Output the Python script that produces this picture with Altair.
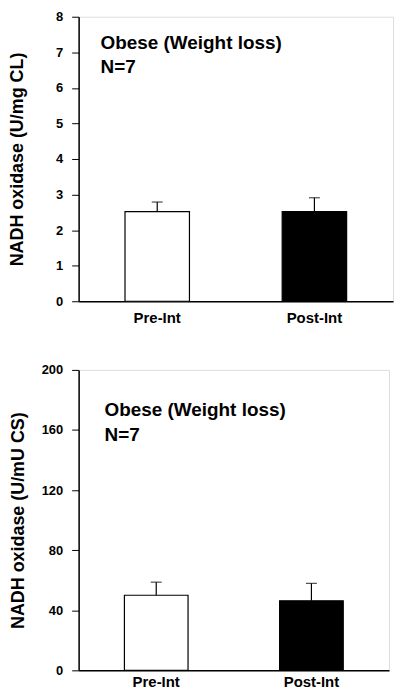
import altair as alt
import pandas as pd

groups = ["Pre-Int", "Post-Int"]

# Top panel: NADH oxidase (U/mg CL)
top_mean = [2.52, 2.52]
top_sem = [0.27, 0.39]
top_ticks = [0, 1, 2, 3, 4, 5, 6, 7, 8]

# Bottom panel: NADH oxidase (U/mU CS)
bot_mean = [50.0, 46.3]
bot_sem = [8.7, 11.6]
bot_ticks = [0, 40, 80, 120, 160, 200]

line1 = "Obese (Weight loss)"
line2 = "N=7"

FONT = "Liberation Sans"


def panel(means, sems, ymax, ticks, ytitle, W, H, title_pad, tx, ty, xpad):
    df = pd.DataFrame({
        "group": groups,
        "mean": means,
        "upper": [m + s for m, s in zip(means, sems)],
    })
    xenc = alt.X(
        "group:N",
        sort=groups,
        scale=alt.Scale(paddingInner=0.59, paddingOuter=0.295),
        axis=alt.Axis(
            title=None, ticks=False, labelAngle=0, labelFontSize=15,
            labelFontWeight="bold", labelPadding=xpad, labelColor="black",
            domainColor="black", domainWidth=1.5,
        ),
    )
    yscale = alt.Scale(domain=[0, ymax], nice=False, zero=True)
    yaxis = alt.Axis(
        values=ticks, title=ytitle, grid=False, tickSize=7,
        tickColor="black", tickWidth=1, labelFontSize=13,
        labelFontWeight="bold", labelPadding=9, labelColor="black",
        labelOverlap=False,
        titleFontSize=18, titleFontWeight="bold", titleColor="black",
        titlePadding=title_pad, domainColor="black", domainWidth=1.5,
    )
    base = alt.Chart(df)
    bars = base.mark_bar(stroke="black", strokeWidth=1.2).encode(
        x=xenc,
        y=alt.Y("mean:Q", scale=yscale, axis=yaxis),
        fill=alt.Fill(
            "group:N",
            scale=alt.Scale(domain=groups, range=["white", "black"]),
            legend=None,
        ),
    )
    err = base.mark_rule(color="black", strokeWidth=1.2).encode(
        x=xenc,
        y=alt.Y("mean:Q", scale=yscale, axis=yaxis),
        y2="upper:Q",
    )
    cap = base.mark_tick(color="black", size=11, thickness=1.2).encode(
        x=xenc,
        y=alt.Y("upper:Q", scale=yscale, axis=yaxis),
    )
    tdf = pd.DataFrame({"a": [0]})
    t1 = alt.Chart(tdf).mark_text(
        text=line1, align="left", baseline="alphabetic", fontSize=19,
        fontWeight="bold", font=FONT, color="black",
    ).encode(x=alt.value(tx), y=alt.value(ty))
    t2 = alt.Chart(tdf).mark_text(
        text=line2, align="left", baseline="alphabetic", fontSize=19,
        fontWeight="bold", font=FONT, color="black",
    ).encode(x=alt.value(tx), y=alt.value(ty + 25))
    return alt.layer(bars, err, cap, t1, t2).properties(width=W, height=H)


top = panel(top_mean, top_sem, 8, top_ticks, "NADH oxidase (U/mg CL)",
            316, 286, 29, 22, 32, 9)
bottom = panel(bot_mean, bot_sem, 200, bot_ticks, "NADH oxidase (U/mU CS)",
               312, 302, 14, 26, 46, 4)

chart = alt.vconcat(top, bottom, spacing=37).properties(
    padding=0
).configure_view(
    stroke="black", strokeWidth=1.5
).configure(
    font=FONT
)

chart.save("out.html", embed_options={"renderer": "svg", "actions": False})
